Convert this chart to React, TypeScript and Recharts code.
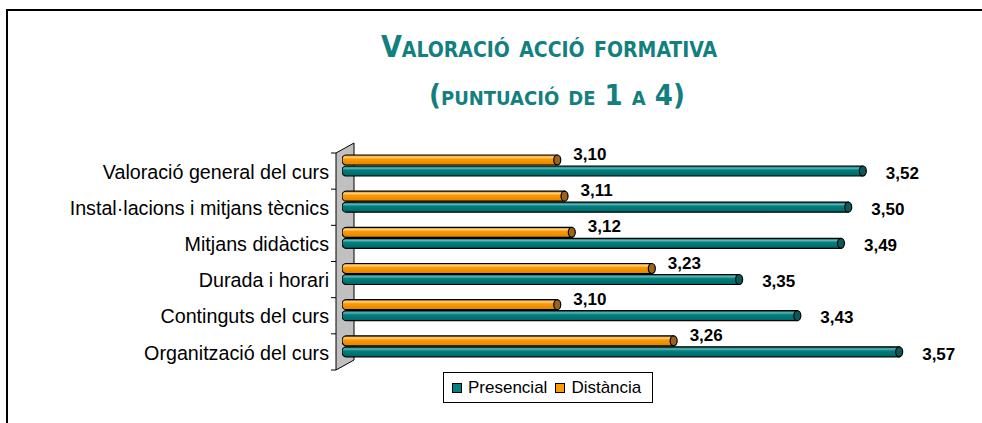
import { BarChart, Bar, XAxis, YAxis, LabelList, Legend } from 'recharts'

const categories = [
  'Valoració general del curs',
  'Instal·lacions i mitjans tècnics',
  'Mitjans didàctics',
  'Durada i horari',
  'Continguts del curs',
  'Organització del curs',
]
const presencial = [3.52, 3.5, 3.49, 3.35, 3.43, 3.57]
const distancia = [3.1, 3.11, 3.12, 3.23, 3.1, 3.26]
const seriesNames = { presencial: 'Presencial', distancia: 'Distància' }

const data = categories.map((name, i) => ({
  name,
  presencial: presencial[i],
  distancia: distancia[i],
}))

const W = 982
const H = 423
const M = { top: 147, right: 58, bottom: 59, left: 2 }
const AXIS_W = 340
const TEAL = '#008080'
const ORANGE = '#FF9900'
const FONT = '"Liberation Sans", Arial, sans-serif'

const fmt = (v: number) => v.toFixed(2).replace('.', ',')

function Cylinder(props: any) {
  const { x, y, width, height, grad, cap } = props
  if (width <= 0) return null
  const r = height / 2
  const end = x + width
  const d = `M ${x + 4} ${y} H ${end - 3} V ${y + height} H ${x + 4} A 4 ${r} 0 0 1 ${x + 4} ${y} Z`
  return (
    <g>
      <path d={d} fill={`url(#${grad})`} stroke="#000" strokeWidth={1.2} />
      <ellipse cx={end - 3} cy={y + r} rx={3.5} ry={r} fill={cap} stroke="#000" strokeWidth={1.2} />
    </g>
  )
}

function Wall() {
  const plotTop = M.top
  const plotBottom = H - M.bottom
  const fx = 336
  const bx = 354
  const ticks = categories.length + 1
  const step = (plotBottom - plotTop) / categories.length
  return (
    <g>
      <polygon
        points={`${fx},${plotTop + 6} ${bx},${plotTop - 4} ${bx},${plotBottom - 4} ${fx},${plotBottom + 6}`}
        fill="#C0C0C0"
        stroke="#000"
        strokeWidth={1}
      />
      {Array.from({ length: ticks }).map((_, i) => (
        <line
          key={i}
          x1={fx - 5}
          x2={fx}
          y1={plotTop + 6 + i * step}
          y2={plotTop + 6 + i * step}
          stroke="#000"
        />
      ))}
    </g>
  )
}

function CatTick(props: any) {
  const { y, payload } = props
  return (
    <text x={329} y={y + 6.6} textAnchor="end" dominantBaseline="central" fontSize={19.7} fill="#000" fontFamily={FONT}>
      {payload.value}
    </text>
  )
}

function valueLabel(dx: number, dy: number) {
  return (p: any) => {
    const { x, y, width, height, value } = p
    return (
      <text
        x={x + width + dx}
        y={y + height / 2 + dy}
        dominantBaseline="central"
        fontSize={17}
        fontWeight="bold"
        fill="#000"
        fontFamily={FONT}
      >
        {fmt(value)}
      </text>
    )
  }
}

function LegendBox() {
  const item = (color: string, label: string) => (
    <span style={{ display: 'inline-flex', alignItems: 'center', marginRight: 8 }}>
      <span style={{ width: 8, height: 8, background: color, border: '1px solid #000', marginRight: 6 }} />
      {label}
    </span>
  )
  return (
    <div
      style={{
        width: 200,
        height: 29,
        border: '1px solid #000',
        display: 'flex',
        alignItems: 'center',
        paddingLeft: 8,
        boxSizing: 'content-box',
        fontSize: 17,
        fontFamily: FONT,
        color: '#000',
        background: '#fff',
      }}
    >
      {item(TEAL, seriesNames.presencial)}
      {item(ORANGE, seriesNames.distancia)}
    </div>
  )
}

export default function App() {
  return (
    <div style={{ position: 'absolute', left: 0, top: 0, width: W, height: H, overflow: 'hidden', background: '#fff' }}>
      <div
        style={{
          position: 'absolute',
          left: 6,
          top: 9,
          width: 1000,
          height: 500,
          border: '2px solid #000',
        }}
      />
      <div
        style={{
          position: 'absolute',
          left: 253,
          width: 600,
          top: 0,
          textAlign: 'center',
          color: '#138080',
          fontFamily: '"DejaVu Sans Condensed", "DejaVu Sans", sans-serif',
          fontWeight: 'bold',
          fontVariant: 'small-caps',
          fontSize: 30,
        }}
      >
        <div style={{ position: 'absolute', left: -4, right: 4, top: 32, lineHeight: '30px' }}>Valoració acció formativa</div>
        <div style={{ position: 'absolute', left: 4, right: -4, top: 80, lineHeight: '30px', fontSize: 29 }}>(puntuació de 1 a 4)</div>
      </div>
      <div style={{ position: 'absolute', left: 0, top: 0 }}>
        <BarChart
          width={W}
          height={H}
          data={data}
          layout="vertical"
          margin={M}
          barSize={10}
          barGap={1}
          barCategoryGap={0}
        >
          <defs>
            <linearGradient id="gTeal" x1="0" y1="0" x2="0" y2="1">
              <stop offset="0%" stopColor="#005f5f" />
              <stop offset="22%" stopColor="#5fb5b5" />
              <stop offset="40%" stopColor="#008080" />
              <stop offset="100%" stopColor="#006666" />
            </linearGradient>
            <linearGradient id="gOrange" x1="0" y1="0" x2="0" y2="1">
              <stop offset="0%" stopColor="#cc7a00" />
              <stop offset="22%" stopColor="#ffd58a" />
              <stop offset="40%" stopColor="#FF9900" />
              <stop offset="100%" stopColor="#e08400" />
            </linearGradient>
          </defs>
          <Wall />
          <XAxis type="number" domain={[2.8, 3.6]} hide allowDataOverflow />
          <YAxis
            type="category"
            dataKey="name"
            width={AXIS_W}
            axisLine={false}
            tickLine={false}
            tick={<CatTick />}
            interval={0}
          />
          <Legend
            verticalAlign="middle"
            align="center"
            layout="horizontal"
            wrapperStyle={{ left: 443, top: 372, width: 'auto' }}
            content={() => <LegendBox />}
          />
          <Bar
            dataKey="distancia"
            name={seriesNames.distancia}
            fill={ORANGE}
            isAnimationActive={false}
            shape={(p: any) => <Cylinder {...p} grad="gOrange" cap="#9a6420" />}
          >
            <LabelList dataKey="distancia" content={valueLabel(13, -5.5)} />
          </Bar>
          <Bar
            dataKey="presencial"
            name={seriesNames.presencial}
            fill={TEAL}
            isAnimationActive={false}
            shape={(p: any) => <Cylinder {...p} grad="gTeal" cap="#0a5a5a" />}
          >
            <LabelList dataKey="presencial" content={valueLabel(20, 2.2)} />
          </Bar>
        </BarChart>
      </div>
    </div>
  )
}
